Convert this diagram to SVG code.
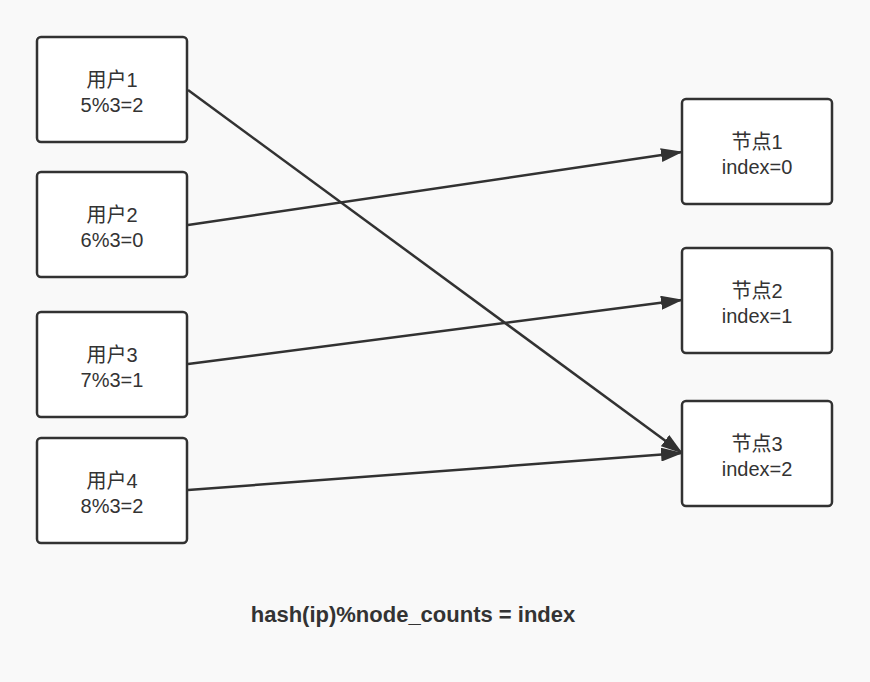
<svg xmlns="http://www.w3.org/2000/svg" width="870" height="682" viewBox="0 0 870 682">
<style>
.box{fill:#ffffff;stroke:#323232;stroke-width:2.5}
.t{font-family:"Liberation Sans","Noto Sans CJK SC",sans-serif;font-size:20px;fill:#333333;text-anchor:middle}
.c{stroke:#323232;stroke-width:2.5;fill:none;marker-end:url(#arr)}
.f{font-family:"Liberation Sans","Noto Sans CJK SC",sans-serif;font-size:22px;font-weight:bold;fill:#333333;text-anchor:middle}
</style>
<defs>
<marker id="arr" viewBox="0 0 22 14" refX="21" refY="7" markerWidth="22" markerHeight="14" markerUnits="userSpaceOnUse" orient="auto">
<path d="M0,0 L22,7 L0,14 z" fill="#323232"/>
</marker>
</defs>
<rect width="870" height="682" fill="#f9f9f9"/>
<g id="connectors">
<line class="c" x1="188" y1="90" x2="682" y2="453"/>
<line class="c" x1="188" y1="225" x2="682" y2="152"/>
<line class="c" x1="188" y1="364" x2="682" y2="300"/>
<line class="c" x1="188" y1="490" x2="682" y2="453"/>
</g>
<g id="user1"><rect class="box" x="37" y="37" width="150" height="105" rx="4"/><text class="t" x="112" y="87">用户1</text><text class="t" x="112" y="112">5%3=2</text></g>
<g id="user2"><rect class="box" x="37" y="172" width="150" height="105" rx="4"/><text class="t" x="112" y="222">用户2</text><text class="t" x="112" y="247">6%3=0</text></g>
<g id="user3"><rect class="box" x="37" y="312" width="150" height="105" rx="4"/><text class="t" x="112" y="362">用户3</text><text class="t" x="112" y="387">7%3=1</text></g>
<g id="user4"><rect class="box" x="37" y="438" width="150" height="105" rx="4"/><text class="t" x="112" y="488">用户4</text><text class="t" x="112" y="513">8%3=2</text></g>
<g id="node1"><rect class="box" x="682" y="99" width="150" height="105" rx="4"/><text class="t" x="757" y="149">节点1</text><text class="t" x="757" y="174">index=0</text></g>
<g id="node2"><rect class="box" x="682" y="248" width="150" height="105" rx="4"/><text class="t" x="757" y="298">节点2</text><text class="t" x="757" y="323">index=1</text></g>
<g id="node3"><rect class="box" x="682" y="401" width="150" height="105" rx="4"/><text class="t" x="757" y="451">节点3</text><text class="t" x="757" y="476">index=2</text></g>
<text class="f" x="413" y="622">hash(ip)%node_counts = index</text>
</svg>
